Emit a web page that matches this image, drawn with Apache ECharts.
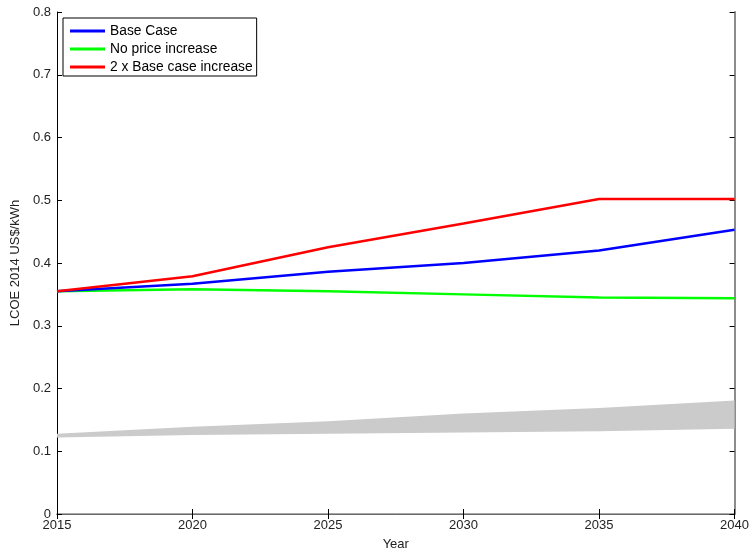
<!DOCTYPE html>
<html><head><meta charset="utf-8">
<script src="https://cdn.jsdelivr.net/npm/echarts@6/dist/echarts.min.js"></script>
<style>html,body{margin:0;padding:0;background:#fff}#c{width:752px;height:556px}</style>
</head><body><div id="c"></div>
<script>
const years = ['2015', '2020', '2025', '2030', '2035', '2040'];
const baseCase = [0.355, 0.367, 0.386, 0.400, 0.420, 0.453];
const noIncrease = [0.355, 0.358, 0.355, 0.350, 0.345, 0.344];
const doubleIncrease = [0.355, 0.379, 0.425, 0.463, 0.502, 0.502];
const bandLower = [0.122, 0.126, 0.128, 0.130, 0.132, 0.136];
const bandUpper = [0.128, 0.139, 0.148, 0.160, 0.169, 0.181];
const seriesNames = ['Base Case', 'No price increase', '2 x Base case increase'];

const bandWidth = bandUpper.map((u, i) => +(u - bandLower[i]).toFixed(4));

const font = 'Liberation Sans, Arial, sans-serif';
const chart = echarts.init(document.getElementById('c'), null, {renderer: 'canvas'});
chart.setOption({
  animation: false,
  backgroundColor: '#fff',
  grid: {left: 57, top: 12, right: 16, bottom: 39, containLabel: false},
  legend: {
    data: seriesNames,
    orient: 'vertical',
    left: 63, top: 18,
    padding: [6, 4, 2, 7],
    itemGap: 4,
    itemWidth: 35, itemHeight: 3,
    icon: 'rect',
    borderColor: '#000', borderWidth: 1, borderRadius: 0,
    backgroundColor: '#fff',
    textStyle: {fontFamily: font, fontSize: 13.8, lineHeight: 14, color: '#000'}
  },
  xAxis: [{
    type: 'category', data: years, boundaryGap: false,
    name: 'Year', nameLocation: 'middle', nameGap: 24,
    nameTextStyle: {fontFamily: font, fontSize: 13, color: '#222'},
    axisLine: {show: true, lineStyle: {color: '#000', width: 1}},
    axisTick: {show: true, inside: true, length: 5, lineStyle: {color: '#000'}},
    axisLabel: {fontFamily: font, fontSize: 13, color: '#222', margin: 5},
    splitLine: {show: false}
  }, {
    type: 'category', data: years, boundaryGap: false, position: 'top',
    axisLine: {show: true, lineStyle: {color: '#8c8c8c', width: 1.5}},
    axisTick: {show: true, inside: true, length: 5, lineStyle: {color: '#000'}},
    axisLabel: {show: false}, splitLine: {show: false}
  }],
  yAxis: [{
    type: 'value', min: 0, max: 0.8, interval: 0.1,
    name: 'LCOE 2014 US$/kWh', nameLocation: 'middle', nameGap: 29,
    nameTextStyle: {fontFamily: font, fontSize: 13, color: '#222'},
    axisLine: {show: true, lineStyle: {color: '#000', width: 1}},
    axisTick: {show: true, inside: true, length: 5, lineStyle: {color: '#000'}},
    axisLabel: {fontFamily: font, fontSize: 13, color: '#222', margin: 6, formatter: v => (v === 0 ? '0' : v.toFixed(1))},
    splitLine: {show: false}
  }, {
    type: 'value', min: 0, max: 0.8, interval: 0.1, position: 'right',
    axisLine: {show: true, lineStyle: {color: '#8c8c8c', width: 2}},
    axisTick: {show: true, inside: true, length: 5, lineStyle: {color: '#000'}},
    axisLabel: {show: false}, splitLine: {show: false}
  }],
  series: [
    {name: 'bandLow', type: 'line', stack: 'band', data: bandLower, symbol: 'none',
     lineStyle: {opacity: 0}, areaStyle: {opacity: 0}, silent: true, z: 1},
    {name: 'bandRange', type: 'line', stack: 'band', data: bandWidth, symbol: 'none',
     lineStyle: {opacity: 0}, areaStyle: {color: '#cbcbcb', opacity: 1}, silent: true, z: 1},
    {name: seriesNames[0], type: 'line', data: baseCase, symbol: 'none',
     lineStyle: {color: '#0000ff', width: 2.5}, itemStyle: {color: '#0000ff'}, z: 3},
    {name: seriesNames[1], type: 'line', data: noIncrease, symbol: 'none',
     lineStyle: {color: '#00ff00', width: 2.5}, itemStyle: {color: '#00ff00'}, z: 2},
    {name: seriesNames[2], type: 'line', data: doubleIncrease, symbol: 'none',
     lineStyle: {color: '#ff0000', width: 2.5}, itemStyle: {color: '#ff0000'}, z: 4}
  ]
});
</script></body></html>
